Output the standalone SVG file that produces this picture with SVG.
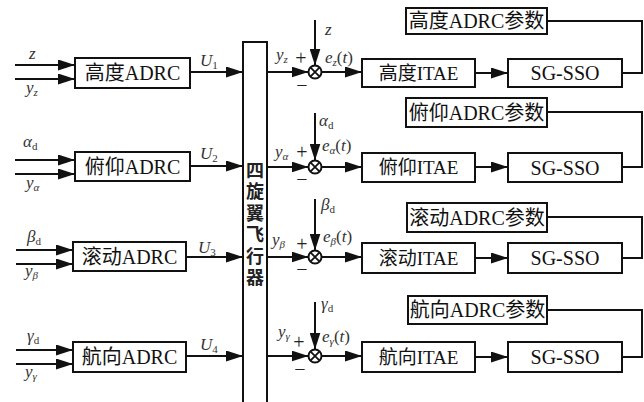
<svg xmlns="http://www.w3.org/2000/svg" width="644" height="402" viewBox="0 0 644 402">
<style>
.bx{fill:#fff;stroke:#111;stroke-width:2}
.ln{fill:none;stroke:#111;stroke-width:2}
.ar{fill:none;stroke:#111;stroke-width:2;marker-end:url(#ah)}
.t{font-family:"Liberation Serif","Noto Sans CJK SC",serif;font-size:19px;fill:#111;text-anchor:middle;dominant-baseline:central}
.ta{font-family:"Liberation Serif","Noto Sans CJK SC",serif;font-size:20px;fill:#111;text-anchor:middle;dominant-baseline:central}
.t2{font-family:"Liberation Serif","Noto Sans CJK SC",serif;font-size:20px;fill:#111;text-anchor:middle;dominant-baseline:central}
.m{font-family:"Liberation Serif","DejaVu Serif",serif;font-size:17px;font-style:italic;fill:#333}
.sb{font-size:11px}
.up{font-style:normal}
.pm{font-family:"Liberation Serif",serif;font-size:20px;fill:#222;text-anchor:middle}
.pl{font-family:"Noto Sans CJK SC",sans-serif;font-size:18px;font-weight:bold;fill:#222;writing-mode:vertical-rl;letter-spacing:3.5px}
</style>
<defs>
<marker id="ah" markerUnits="userSpaceOnUse" markerWidth="18" markerHeight="11" refX="17" refY="5.5" orient="auto">
<path d="M0,0 L17,5.5 L0,11 z" fill="#111"/>
</marker>
<g id="sum"><circle r="6.5" fill="#fff" stroke="#111" stroke-width="2"/><path d="M-4.6,-4.6 L4.6,4.6 M-4.6,4.6 L4.6,-4.6" stroke="#111" stroke-width="1.8"/></g>
</defs>
<rect width="644" height="402" fill="#fff"/>

<g id="connectors">
<path class="ar" d="M15,65 H75"/><path class="ar" d="M15,79 H75"/>
<path class="ar" d="M15,160 H75"/><path class="ar" d="M15,174 H75"/>
<path class="ar" d="M16,250 H73"/><path class="ar" d="M16,264 H73"/>
<path class="ar" d="M16,350 H73"/><path class="ar" d="M16,364 H73"/>
<path class="ar" d="M190,72 H243"/>
<path class="ar" d="M190,166 H243"/>
<path class="ar" d="M186,257 H243"/>
<path class="ar" d="M186,356 H243"/>
<path class="ar" d="M267,72 H308.5"/>
<path class="ar" d="M267,167 H308.5"/>
<path class="ar" d="M267,257 H308.5"/>
<path class="ar" d="M267,356 H308.5"/>
<path class="ar" d="M315,20 V65.5"/>
<path class="ar" d="M315,113 V160.5"/>
<path class="ar" d="M315,199 V250.5"/>
<path class="ar" d="M315,302 V349.5"/>
<path class="ar" d="M321.5,72 H362"/>
<path class="ar" d="M321.5,167 H362"/>
<path class="ar" d="M321.5,257 H362"/>
<path class="ar" d="M321.5,356 H362"/>
<path class="ar" d="M475,73 H508"/>
<path class="ar" d="M475,167 H508"/>
<path class="ar" d="M475,258 H508"/>
<path class="ar" d="M475,357 H508"/>
<path class="ln" d="M622,73 H642 V21 H547"/>
<path class="ln" d="M622,167 H642 V112 H547"/>
<path class="ln" d="M622,258 H642 V217 H547"/>
<path class="ln" d="M622,357 H642 V310 H547"/>
</g>

<g id="adrc-z"><rect class="bx" x="75" y="58" width="115" height="30"/><text class="ta" x="132.5" y="73">高度ADRC</text></g>
<g id="adrc-a"><rect class="bx" x="75" y="152" width="115" height="29"/><text class="ta" x="132.5" y="166.5">俯仰ADRC</text></g>
<g id="adrc-b"><rect class="bx" x="73" y="242" width="113" height="29"/><text class="ta" x="129.5" y="256.5">滚动ADRC</text></g>
<g id="adrc-g"><rect class="bx" x="73" y="342" width="113" height="30"/><text class="ta" x="129.5" y="357">航向ADRC</text></g>

<g id="plant"><rect class="bx" x="243" y="42" width="24" height="364"/>
<text class="pl" x="255" y="161">四旋翼飞行器</text></g>

<g id="sum-z"><use href="#sum" x="315" y="72"/></g>
<g id="sum-a"><use href="#sum" x="315" y="167"/></g>
<g id="sum-b"><use href="#sum" x="315" y="257"/></g>
<g id="sum-g"><use href="#sum" x="315" y="356"/></g>

<g id="itae-z"><rect class="bx" x="362" y="59" width="113" height="28"/><text class="t" x="418.5" y="73">高度ITAE</text></g>
<g id="itae-a"><rect class="bx" x="362" y="153" width="113" height="29"/><text class="t" x="418.5" y="167.5">俯仰ITAE</text></g>
<g id="itae-b"><rect class="bx" x="362" y="243" width="113" height="30"/><text class="t" x="418.5" y="258">滚动ITAE</text></g>
<g id="itae-g"><rect class="bx" x="362" y="342" width="113" height="30"/><text class="t" x="418.5" y="357">航向ITAE</text></g>

<g id="sso-z"><rect class="bx" x="508" y="59" width="114" height="28"/><text class="t2" x="565" y="73">SG-SSO</text></g>
<g id="sso-a"><rect class="bx" x="508" y="153" width="114" height="29"/><text class="t2" x="565" y="167.5">SG-SSO</text></g>
<g id="sso-b"><rect class="bx" x="508" y="243" width="114" height="30"/><text class="t2" x="565" y="258">SG-SSO</text></g>
<g id="sso-g"><rect class="bx" x="508" y="342" width="114" height="30"/><text class="t2" x="565" y="357">SG-SSO</text></g>

<g id="param-z"><rect class="bx" x="406" y="8" width="141" height="26"/><text class="t2" x="476.5" y="21">高度ADRC参数</text></g>
<g id="param-a"><rect class="bx" x="406" y="98" width="141" height="29"/><text class="t2" x="476.5" y="112.5">俯仰ADRC参数</text></g>
<g id="param-b"><rect class="bx" x="407" y="203" width="140" height="29"/><text class="t2" x="477" y="217.5">滚动ADRC参数</text></g>
<g id="param-g"><rect class="bx" x="408" y="296" width="139" height="28"/><text class="t2" x="477.5" y="310">航向ADRC参数</text></g>

<g id="labels">
<text class="m" x="29" y="59">z</text>
<text class="m" x="26" y="93">y<tspan class="sb" dy="3">z</tspan></text>
<text class="m" x="23" y="147">α<tspan class="sb up" dy="3">d</tspan></text>
<text class="m" x="26" y="188">y<tspan class="sb" dy="3">α</tspan></text>
<text class="m" x="27" y="242">β<tspan class="sb up" dy="3">d</tspan></text>
<text class="m" x="25" y="276">y<tspan class="sb" dy="3">β</tspan></text>
<text class="m" x="27" y="341">γ<tspan class="sb up" dy="3">d</tspan></text>
<text class="m" x="25" y="377">y<tspan class="sb" dy="3">γ</tspan></text>

<text class="m" x="200" y="66">U<tspan class="sb up" dy="3">1</tspan></text>
<text class="m" x="200" y="159">U<tspan class="sb up" dy="3">2</tspan></text>
<text class="m" x="198" y="253">U<tspan class="sb up" dy="3">3</tspan></text>
<text class="m" x="200" y="350">U<tspan class="sb up" dy="3">4</tspan></text>

<text class="m" x="276" y="60">y<tspan class="sb" dy="3">z</tspan></text>
<text class="m" x="275" y="157">y<tspan class="sb" dy="3">α</tspan></text>
<text class="m" x="272" y="245">y<tspan class="sb" dy="3">β</tspan></text>
<text class="m" x="278" y="337">y<tspan class="sb" dy="3">γ</tspan></text>

<text class="pm" x="301" y="65">+</text><text class="pm" x="302" y="92">−</text>
<text class="pm" x="302" y="159">+</text><text class="pm" x="302" y="186">−</text>
<text class="pm" x="302" y="251">+</text><text class="pm" x="302" y="276">−</text>
<text class="pm" x="299" y="349">+</text><text class="pm" x="300" y="376">−</text>

<text class="m" x="325" y="35">z</text>
<text class="m" x="319" y="126">α<tspan class="sb up" dy="3">d</tspan></text>
<text class="m" x="321" y="210">β<tspan class="sb up" dy="3">d</tspan></text>
<text class="m" x="321" y="309">γ<tspan class="sb up" dy="3">d</tspan></text>

<text class="m" x="325" y="63">e<tspan class="sb" dy="3">z</tspan><tspan class="up" dy="-3">(</tspan>t<tspan class="up">)</tspan></text>
<text class="m" x="322" y="151">e<tspan class="sb" dy="3">α</tspan><tspan class="up" dy="-3">(</tspan>t<tspan class="up">)</tspan></text>
<text class="m" x="323" y="242">e<tspan class="sb" dy="3">β</tspan><tspan class="up" dy="-3">(</tspan>t<tspan class="up">)</tspan></text>
<text class="m" x="322" y="342">e<tspan class="sb" dy="3">γ</tspan><tspan class="up" dy="-3">(</tspan>t<tspan class="up">)</tspan></text>
</g>
</svg>
